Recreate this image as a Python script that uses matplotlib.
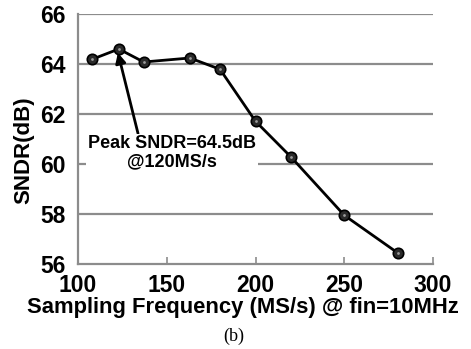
import numpy as np
import matplotlib
matplotlib.use("Agg")
from matplotlib import pyplot as plt

plt.rcParams['font.family'] = ['Liberation Sans', 'DejaVu Sans']

freq = [108, 123, 137, 163, 180, 200, 220, 250, 280]
sndr = [64.19, 64.6, 64.08, 64.24, 63.79, 61.71, 60.28, 57.95, 56.45]
xticks = [100, 150, 200, 250, 300]
yticks = [56, 58, 60, 62, 64, 66]

fig = plt.figure(figsize=(4.71, 3.49), dpi=100)
ax = fig.add_axes([78/471, 1-264/349, (433-78)/471, (264-14)/349])

gray = '#8c8c8c'
for y in yticks[1:]:
    ax.axhline(y, color=gray, lw=1.6, zorder=1)

ax.plot(freq, sndr, color='black', lw=2, zorder=3,
        marker='o', ms=7.5, mfc='#2a2a2a', mec='black', mew=1.2)
ax.plot(freq, sndr, ls='none', marker='o', ms=2, mfc='#9a9a9a', mec='none', zorder=4)

ax.set_xlim(100, 300)
ax.set_ylim(56, 66)
ax.set_xticks(xticks)
ax.set_yticks(yticks)
ax.tick_params(axis='x', direction='in', length=5, width=1.2, color=gray,
               labelsize=16.5, pad=7)
ax.tick_params(axis='y', length=0, labelsize=16.5, pad=9)
for lab in ax.get_xticklabels() + ax.get_yticklabels():
    lab.set_fontweight('bold')
for s in ['top', 'right']:
    ax.spines[s].set_visible(False)
for s in ['left', 'bottom']:
    ax.spines[s].set_color(gray)
    ax.spines[s].set_linewidth(1.6)

ax.set_ylabel('SNDR(dB)', fontsize=16, fontweight='bold')
ax.set_xlabel('Sampling Frequency (MS/s) @ fin=10MHz', fontsize=15.8,
              fontweight='bold')
ax.yaxis.set_label_coords((24-78)/355, (264-150)/250)
ax.xaxis.set_label_coords((243-78)/355, -(308-264)/250)
ax.xaxis.label.set_va('center')
ax.yaxis.label.set_va('center')

ax.annotate('Peak SNDR=64.5dB\n@120MS/s', xy=(122.5, 64.45), xytext=(153, 60.44),
            ha='center', va='center', fontsize=13, fontweight='bold',
            linespacing=1.1, zorder=5,
            bbox=dict(boxstyle='square,pad=0.1', fc='white', ec='none'),
            arrowprops=dict(arrowstyle='-|>', color='black', lw=2,
                            mutation_scale=15, shrinkA=0, shrinkB=0,
                            relpos=(0.3, 1.0)))

fig.text(234/471, 1-336/349, '(b)', family='Liberation Serif', fontsize=13,
         ha='center', va='center')

fig.savefig('out.png', dpi=100)
